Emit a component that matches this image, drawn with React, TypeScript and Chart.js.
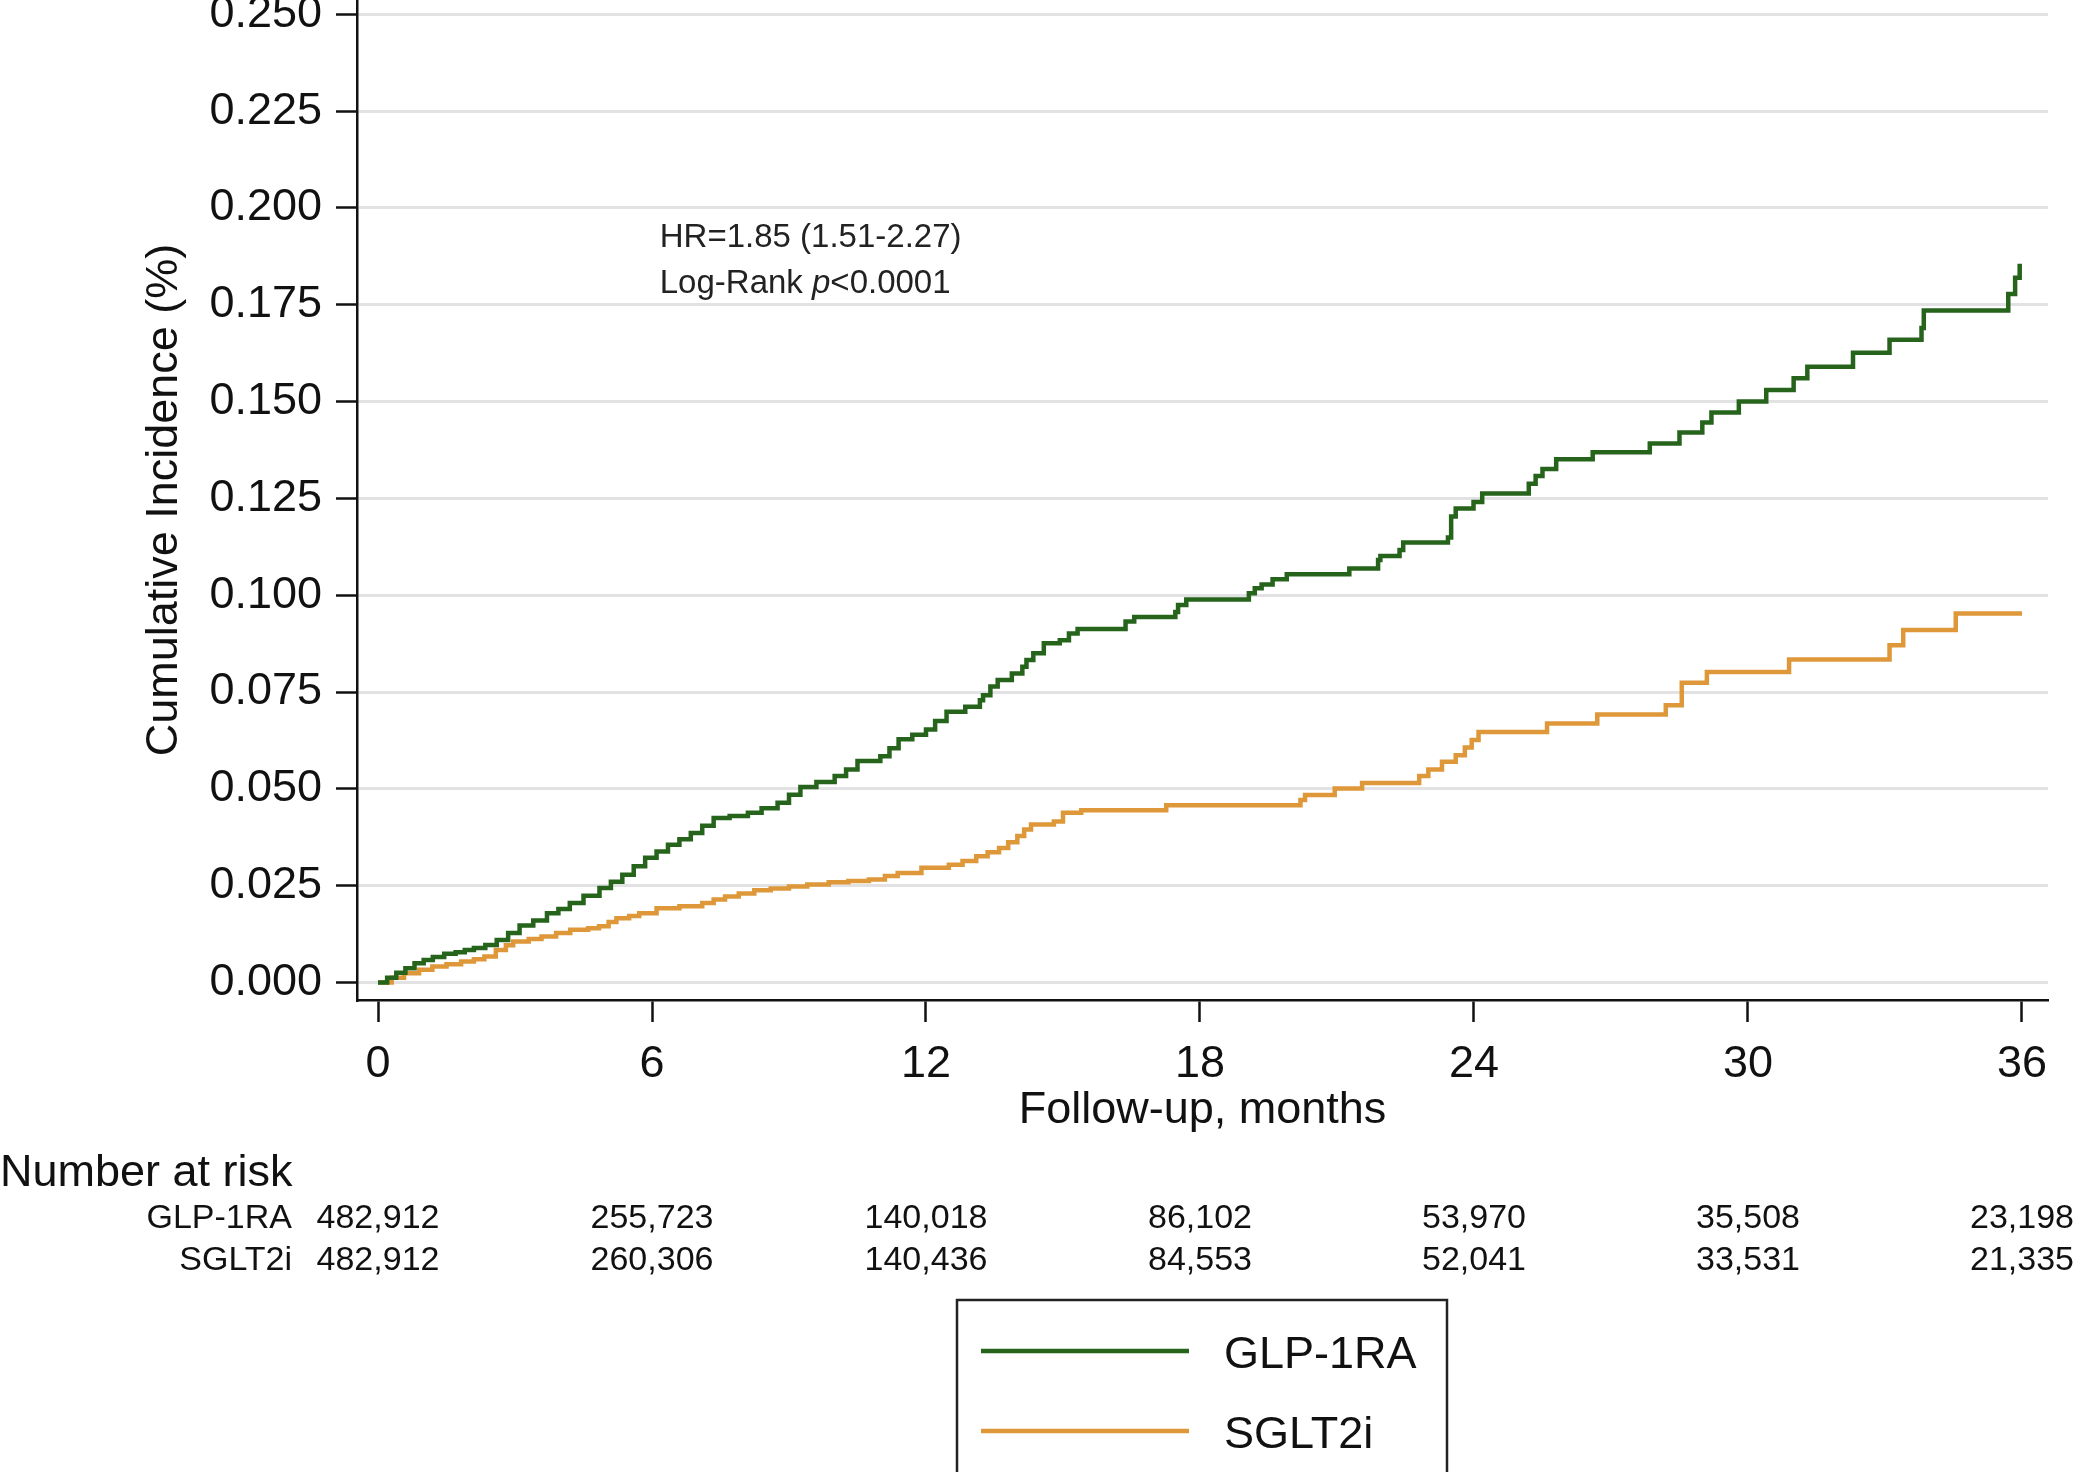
import React, { useEffect, useRef } from "react";
import { Chart, registerables } from "chart.js";

Chart.register(...registerables);

// ---------- data ----------
const xTicks = [0, 6, 12, 18, 24, 30, 36];
const yTicks = [0, 0.025, 0.05, 0.075, 0.1, 0.125, 0.15, 0.175, 0.2, 0.225, 0.25];

const glpMonths = [
  0, 0.2, 0.4, 0.6, 0.8, 1.0, 1.2, 1.45, 1.7, 1.9, 2.1, 2.35, 2.6, 2.85, 3.1, 3.4, 3.7, 3.95, 4.2, 4.5,
  4.85, 5.1, 5.35, 5.6, 5.85, 6.1, 6.35, 6.6, 6.85, 7.1, 7.35, 7.7, 8.1, 8.4, 8.75, 9.0, 9.25, 9.6, 10.0,
  10.25, 10.5, 11.0, 11.2, 11.4, 11.7, 12.0, 12.2, 12.45, 12.86, 13.18, 13.25, 13.41, 13.57, 13.88, 14.11,
  14.2, 14.35, 14.58, 14.93, 15.13, 15.32, 16.37, 16.56, 17.46, 17.52, 17.7, 19.07, 19.2, 19.35, 19.59,
  19.9, 21.27, 21.9, 21.95, 22.37, 22.45, 23.43, 23.5, 23.6, 23.99, 24.18, 25.2, 25.35, 25.5, 25.8, 26.6,
  27.85, 28.5, 29.0, 29.2, 29.8, 30.4, 31.0, 31.3, 32.3, 33.1, 33.8, 33.85, 35.7, 35.85, 35.95, 36.0,
];
const glpValues = [
  0, 0.0012, 0.0025, 0.0037, 0.005, 0.0058, 0.0066, 0.0074, 0.0078, 0.0084, 0.0089, 0.0097, 0.011, 0.0128,
  0.0147, 0.016, 0.0179, 0.019, 0.0205, 0.0224, 0.0244, 0.026, 0.0278, 0.03, 0.0322, 0.0338, 0.0356, 0.037,
  0.0386, 0.0405, 0.0425, 0.043, 0.0438, 0.045, 0.0464, 0.0485, 0.0505, 0.0518, 0.0533, 0.055, 0.0572,
  0.0584, 0.0605, 0.0628, 0.064, 0.0653, 0.0675, 0.0699, 0.0712, 0.0729, 0.0742, 0.0764, 0.0781, 0.0798,
  0.0815, 0.0833, 0.085, 0.0876, 0.0884, 0.0901, 0.0913, 0.0932, 0.0944, 0.0957, 0.0975, 0.0989, 0.1005,
  0.1018, 0.1028, 0.1041, 0.1054, 0.1069, 0.1091, 0.1101, 0.1117, 0.1136, 0.1149, 0.1203, 0.1224, 0.1241,
  0.1263, 0.1288, 0.1308, 0.1326, 0.1351, 0.1369, 0.1392, 0.142, 0.1446, 0.1472, 0.15, 0.153, 0.156, 0.159,
  0.1626, 0.166, 0.169, 0.1735, 0.1778, 0.182, 0.185, 0.185,
];

const sgltMonths = [
  0, 0.3, 0.57, 0.9, 1.19, 1.5, 1.82, 2.1, 2.33, 2.58, 2.8, 2.96, 3.3, 3.58, 3.9, 4.21, 4.6, 4.84, 5.05,
  5.22, 5.5, 5.72, 6.1, 6.6, 7.1, 7.35, 7.6, 7.9, 8.24, 8.6, 9.0, 9.4, 9.87, 10.3, 10.75, 11.1, 11.38,
  11.9, 12.5, 12.8, 13.1, 13.35, 13.6, 13.8, 14.0, 14.15, 14.3, 14.8, 15.0, 15.4, 17.26, 20.2, 20.3, 20.95,
  21.55, 22.8, 23.0, 23.3, 23.6, 23.8, 23.95, 24.1, 25.6, 26.7, 28.2, 28.55, 29.1, 30.9, 33.1, 33.4, 34.55,
  36.0,
];
const sgltValues = [
  0, 0.0012, 0.0024, 0.0033, 0.0041, 0.0047, 0.0054, 0.006, 0.0067, 0.0084, 0.0096, 0.0106, 0.0112, 0.0119,
  0.0128, 0.0136, 0.014, 0.0145, 0.0156, 0.0166, 0.0172, 0.0179, 0.0192, 0.0197, 0.0205, 0.0214, 0.0222,
  0.023, 0.0238, 0.0243, 0.0248, 0.0253, 0.0259, 0.0262, 0.0266, 0.0275, 0.0283, 0.0296, 0.0304, 0.0314,
  0.0326, 0.0336, 0.0347, 0.0362, 0.0378, 0.0395, 0.0408, 0.0416, 0.0438, 0.0445, 0.0458, 0.0471, 0.0484,
  0.0501, 0.0515, 0.0533, 0.055, 0.057, 0.0587, 0.0607, 0.0626, 0.0647, 0.0669, 0.0692, 0.0716, 0.0774,
  0.0802, 0.0834, 0.0871, 0.091, 0.0953, 0.0953,
];

const seriesNames = ["GLP-1RA", "SGLT2i"];
const riskGLP = [482912, 255723, 140018, 86102, 53970, 35508, 23198];
const riskSGLT = [482912, 260306, 140436, 84553, 52041, 33531, 21335];

const hrText = "HR=1.85 (1.51-2.27)";
const pText = ["Log-Rank ", "p", "<0.0001"];

// ---------- styling ----------
const FONT = '"Liberation Sans", Arial, sans-serif';
const GREEN = "#26641c";
const ORANGE = "#de983a";
const TEXT = "#111111";

const toXY = (xs: number[], ys: number[]) => xs.map((x, i) => ({ x, y: ys[i] }));

const overlay = {
  id: "overlay",
  afterDraw(chart: any) {
    const ctx = chart.ctx as CanvasRenderingContext2D;
    const xs = chart.scales.x;
    const ys = chart.scales.y;
    ctx.save();
    ctx.fillStyle = "#222";
    ctx.textBaseline = "middle";
    ctx.textAlign = "left";

    // HR annotation
    const hx = xs.getPixelForValue(6.17);
    ctx.font = `33px ${FONT}`;
    ctx.fillText(hrText, hx, ys.getPixelForValue(0.1923));
    const ly = ys.getPixelForValue(0.1803);
    let px = hx;
    ctx.fillText(pText[0], px, ly);
    px += ctx.measureText(pText[0]).width;
    ctx.font = `italic 33px ${FONT}`;
    ctx.fillText(pText[1], px, ly);
    px += ctx.measureText(pText[1]).width;
    ctx.font = `33px ${FONT}`;
    ctx.fillText(pText[2], px, ly);

    // Number at risk
    ctx.fillStyle = TEXT;
    ctx.font = `45px ${FONT}`;
    ctx.fillText("Number at risk", 0, 1174);
    ctx.font = `34px ${FONT}`;
    const rows = [riskGLP, riskSGLT];
    const rowY = [1219, 1261];
    rows.forEach((row, r) => {
      ctx.textAlign = "right";
      ctx.fillText(seriesNames[r], 292, rowY[r]);
      ctx.textAlign = "center";
      row.forEach((n, i) => {
        ctx.fillText(n.toLocaleString("en-US"), xs.getPixelForValue(xTicks[i]), rowY[r]);
      });
    });

    // Legend
    ctx.strokeStyle = "#222";
    ctx.lineWidth = 2.5;
    ctx.strokeRect(957, 1300, 490, 220);
    const legY = [1351, 1431];
    const cols = [GREEN, ORANGE];
    legY.forEach((y, i) => {
      ctx.strokeStyle = cols[i];
      ctx.lineWidth = 4.5;
      ctx.beginPath();
      ctx.moveTo(981, y);
      ctx.lineTo(1189, y);
      ctx.stroke();
      ctx.fillStyle = TEXT;
      ctx.textAlign = "left";
      ctx.font = `45px ${FONT}`;
      ctx.fillText(seriesNames[i], 1224, y + 5);
    });
    ctx.restore();
  },
};

export default function App() {
  const ref = useRef<HTMLCanvasElement | null>(null);

  useEffect(() => {
    if (!ref.current) return;
    const chart = new Chart(ref.current, {
      type: "line",
      data: {
        datasets: [
          {
            label: seriesNames[0],
            data: toXY(glpMonths, glpValues),
            borderColor: GREEN,
            borderWidth: 4.5,
            pointRadius: 0,
            stepped: true,
            fill: false,
          },
          {
            label: seriesNames[1],
            data: toXY(sgltMonths, sgltValues),
            borderColor: ORANGE,
            borderWidth: 4.5,
            pointRadius: 0,
            stepped: true,
            fill: false,
          },
        ],
      },
      options: {
        animation: false,
        responsive: false,
        devicePixelRatio: 1,
        layout: { autoPadding: false, padding: { left: 0, right: 36, top: 0, bottom: 0 } },
        plugins: { legend: { display: false }, tooltip: { enabled: false } },
        scales: {
          x: {
            type: "linear",
            min: -0.46,
            max: 36.57,
            afterBuildTicks: (s: any) => {
              s.ticks = xTicks.map((v) => ({ value: v }));
            },
            afterFit: (s: any) => {
              s.height = 472;
              s.paddingLeft = 0;
              s.paddingRight = 0;
              s.paddingTop = 0;
              s.paddingBottom = 0;
            },
            grid: {
              drawOnChartArea: false,
              drawTicks: true,
              tickLength: 22,
              tickColor: "#111",
              tickWidth: 2.5,
            },
            border: { display: true, color: "#111", width: 2.5 },
            ticks: {
              color: TEXT,
              padding: 16,
              maxRotation: 0,
              autoSkip: false,
              font: { family: FONT, size: 45 },
              callback: (v: any) => String(v),
            },
            title: {
              display: true,
              text: "Follow-up, months",
              color: TEXT,
              font: { family: FONT, size: 45 },
              padding: { top: 0, bottom: 334 },
            },
          },
          y: {
            type: "linear",
            min: -0.00452,
            max: 0.2537,
            afterBuildTicks: (s: any) => {
              s.ticks = yTicks.map((v) => ({ value: v }));
            },
            afterFit: (s: any) => {
              s.width = 357;
              s.paddingLeft = 0;
              s.paddingRight = 0;
              s.paddingTop = 0;
              s.paddingBottom = 0;
            },
            grid: {
              color: "#e2e2e4",
              lineWidth: 3,
              drawTicks: true,
              tickLength: 21,
              tickColor: "#111",
              tickWidth: 2.5,
            },
            border: { display: true, color: "#111", width: 2.5 },
            ticks: {
              color: TEXT,
              padding: 14,
              autoSkip: false,
              font: { family: FONT, size: 45 },
              callback: (v: any) => Number(v).toFixed(3),
            },
            title: {
              display: true,
              text: "Cumulative Incidence (%)",
              color: TEXT,
              font: { family: FONT, size: 45 },
              padding: { top: 138, bottom: 0 },
            },
          },
        },
      },
      plugins: [overlay],
    });
    return () => chart.destroy();
  }, []);

  return (
    <div style={{ position: "absolute", left: 0, top: 0, width: 2084, height: 1472, background: "#fff" }}>
      <canvas ref={ref} width={2084} height={1472} style={{ width: 2084, height: 1472, display: "block" }} />
    </div>
  );
}
